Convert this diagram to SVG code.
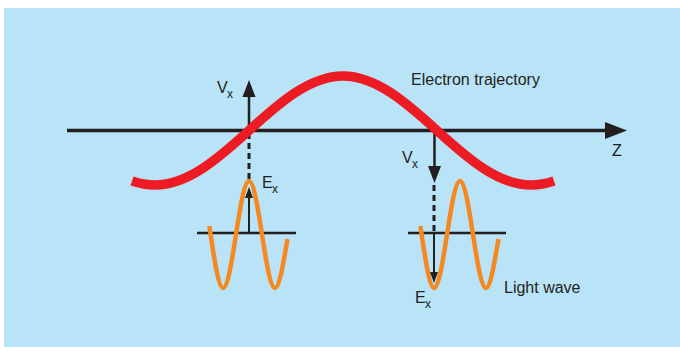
<svg xmlns="http://www.w3.org/2000/svg" width="680" height="351" viewBox="0 0 680 351">
<style>
.lbl{font-family:"Liberation Sans",Arial,sans-serif;fill:#231f20}
.big{font-size:16px}
.sym{font-size:16px}
.sub{font-size:12px}
.ax{stroke:#231f20;fill:none}
.hd{fill:#231f20}
.wave{stroke:#f5891f;stroke-width:4.5;fill:none}
</style>
<defs>
<path id="lw" d="M209.4,226 C213.9,257 218.4,288 223,288 C227.57,288 231.76,261.9 236,234.5 C240.24,207.1 244.43,181 249,181 C253.57,181 257.76,207.1 262,234.5 C266.24,261.9 270.43,288 275,288 C279.5,288 283.5,262 287.5,239"/>
</defs>
<rect x="0" y="0" width="680" height="351" fill="#ffffff"/>
<rect x="4" y="8" width="676" height="339" fill="#b9e3f6"/>
<g id="connectors">
<line class="ax" x1="67" y1="130.5" x2="607" y2="130.5" stroke-width="3.5"/>
<polygon class="hd" points="627,130.5 605,122 605,139"/>
<line class="ax" x1="249" y1="131" x2="249" y2="95" stroke-width="2.5"/>
<polygon class="hd" points="249,80 242.5,97 255.5,97"/>
<line class="ax" x1="249" y1="133" x2="249" y2="179" stroke-width="3" stroke-dasharray="6 4"/>
<line class="ax" x1="434.5" y1="131" x2="434.5" y2="168" stroke-width="2.5"/>
<polygon class="hd" points="434.5,183 428,166 441,166"/>
<line class="ax" x1="434" y1="185" x2="434" y2="232" stroke-width="3" stroke-dasharray="6 4"/>
</g>
<g id="trajectory">
<path d="M132,181 C139.7,183.6 147.3,185 155,185 C188,185 218.3,158.45 249,130.5 C279.7,102.55 310,76 343,76 C376,76 406.3,102.55 437,130.5 C467.7,158.45 498,185 531,185 C538.7,185 546.3,183.6 554,181" stroke="#ed1c24" stroke-width="9.5" fill="none"/>
<text class="lbl big" x="411" y="85">Electron trajectory</text>
</g>
<g id="axis-label">
<text class="lbl big" x="612" y="156">Z</text>
</g>
<g id="vx-left">
<text class="lbl sym" x="217" y="93">V</text><text class="lbl sub" x="227" y="98">x</text>
</g>
<g id="vx-right">
<text class="lbl sym" x="402" y="163">V</text><text class="lbl sub" x="412" y="168">x</text>
</g>
<g id="wave-left">
<line class="ax" x1="197" y1="233" x2="296" y2="233" stroke-width="2.5"/>
<use href="#lw" class="wave"/>
<line class="ax" x1="249" y1="233" x2="249" y2="196" stroke-width="2"/>
<polygon class="hd" points="249,187 245,198 253,198"/>
<text class="lbl sym" x="262" y="188">E</text><text class="lbl sub" x="272" y="193">x</text>
</g>
<g id="wave-right">
<line class="ax" x1="408" y1="233" x2="506" y2="233" stroke-width="2.5"/>
<use href="#lw" class="wave" transform="translate(211,0)"/>
<line class="ax" x1="434" y1="233" x2="434" y2="273" stroke-width="2"/>
<polygon class="hd" points="434,283 430,272 438,272"/>
<text class="lbl sym" x="415" y="303">E</text><text class="lbl sub" x="425" y="308">x</text>
<text class="lbl big" x="504" y="293">Light wave</text>
</g>
</svg>
